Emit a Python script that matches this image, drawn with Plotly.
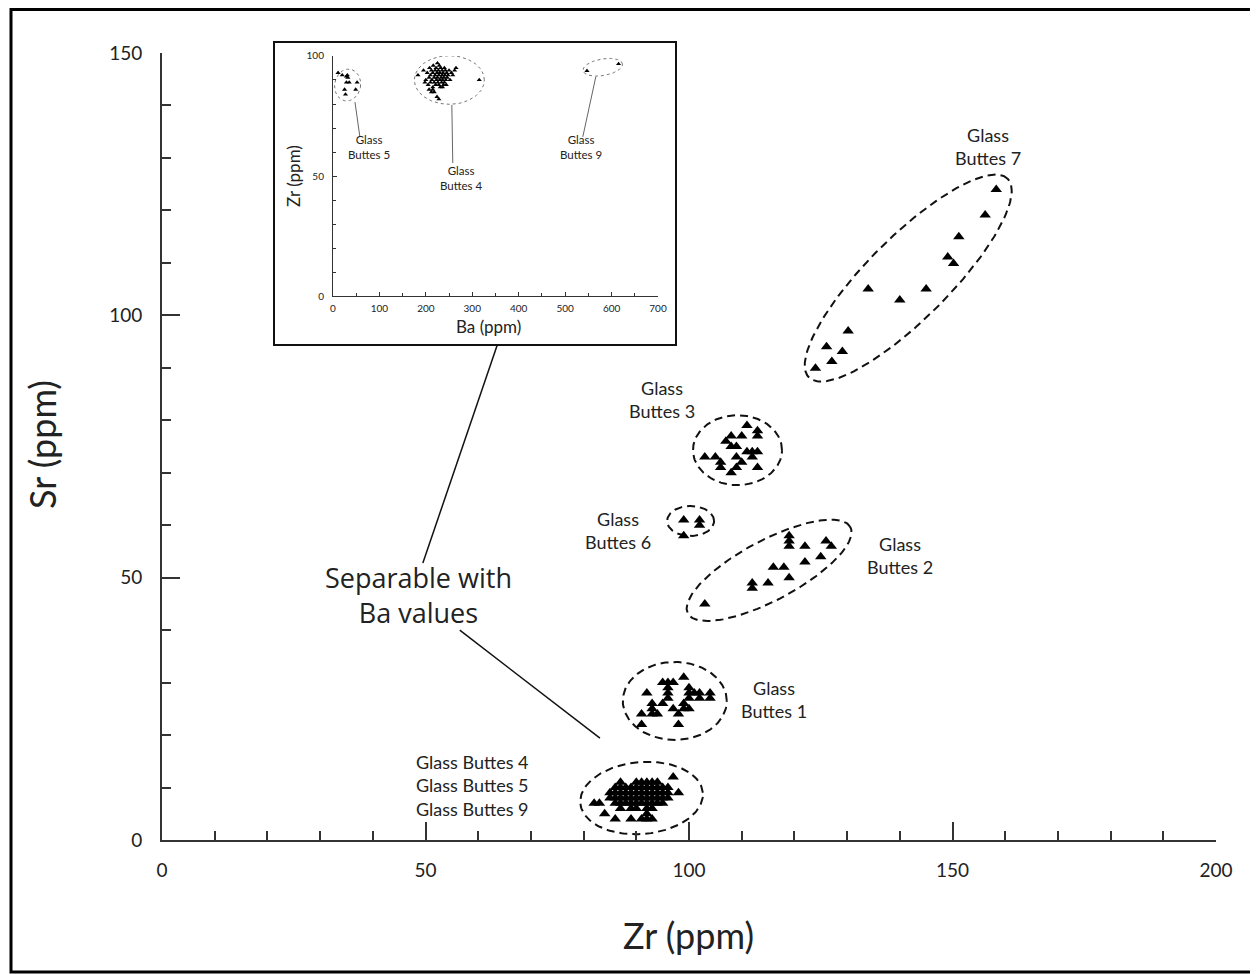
import numpy as np
import plotly.graph_objects as go

FONT = "Lato, 'Open Sans', sans-serif"
FONT2 = "'Open Sans', Lato, sans-serif"
INK = "#222222"

# ---------------- main chart data (Zr ppm, Sr ppm) ----------------
gb7_zr = [158.3, 156.2, 151.2, 149.1, 150.2, 145.0, 140.0, 134.0, 130.2, 126.1, 129.1, 127.1, 124.0]
gb7_sr = [124.0, 119.1, 115.0, 111.1, 109.9, 105.0, 102.9, 105.0, 97.0, 94.0, 93.1, 91.2, 89.9]

gb2_zr = [119, 119, 119, 122, 126, 127, 125, 122, 116, 118, 119, 115, 112, 112, 103]
gb2_sr = [58, 57, 56, 56, 57, 56, 54, 53, 52, 52, 50, 49, 49, 48, 45]

gb6_zr = [99, 102, 102, 99]
gb6_sr = [61, 61, 60, 58]

gb3_zr = [111, 113, 113, 108, 110, 107, 108, 109, 111, 112, 113, 103, 105, 109, 106, 110, 112, 106, 109, 113, 108]
gb3_sr = [79, 78, 77, 77, 77, 76, 75, 75, 74, 74, 74, 73, 73, 73, 72, 72, 73, 71, 71, 71, 70]

gb1_zr = [99, 95, 96, 97, 100, 92, 96, 96, 100, 101, 102, 104, 93, 96, 100, 102, 104, 93, 95, 99,
          91, 93, 94, 97, 98, 99, 100, 91, 98]
gb1_sr = [31, 30, 30, 30, 29, 28, 29, 28, 28, 28, 28, 28, 26, 27, 27, 27, 27, 25, 26, 26,
          24, 24, 24, 25, 24, 25, 25, 22, 22]

gb459_zr = [87, 90, 91, 92, 93, 94,
            86, 87, 88, 89, 90, 91, 92, 93, 94, 95, 96,
            85, 86, 87, 88, 89, 90, 91, 92, 93, 94, 95, 96,
            85, 86, 87, 88, 89, 90, 91, 92, 93, 94, 95, 96,
            86, 87, 88, 89, 90, 91, 92, 93, 94, 95,
            87, 89, 90, 92, 93,
            97, 98, 82, 83, 84, 86, 89, 91, 92, 93, 92]
gb459_sr = [11, 11, 11, 11, 11, 11,
            10, 10, 10, 10, 10, 10, 10, 10, 10, 10, 10,
            9, 9, 9, 9, 9, 9, 9, 9, 9, 9, 9, 9,
            8, 8, 8, 8, 8, 8, 8, 8, 8, 8, 8, 8,
            7, 7, 7, 7, 7, 7, 7, 7, 7, 7,
            6, 6, 6, 6, 6,
            12, 9, 7, 7, 5, 4, 4, 4, 4, 4, 5]

# ---------------- inset data (Ba ppm, Zr ppm) ----------------
in_gb5_ba = [11, 20, 29, 32, 29, 35, 52, 25, 49, 27, 31]
in_gb5_zr = [93, 92, 91.5, 91, 89, 89, 89, 86, 86, 84, 92]

in_gb4_ba = [183, 195, 200, 203, 205, 207, 208, 210, 210, 212, 213, 215, 215, 216, 218, 218, 220, 220, 221, 222,
             223, 224, 225, 225, 226, 227, 228, 228, 229, 230, 230, 231, 232, 233, 234, 235, 235, 236, 237, 238,
             239, 240, 240, 241, 242, 243, 245, 246, 248, 250, 252, 255, 258, 262, 265, 207, 215, 224, 228, 315,
             198, 218, 236, 244, 212]
in_gb4_zr = [92, 94, 90, 93, 88, 91, 95, 92, 89, 94, 90, 93, 87, 96, 91, 89, 94, 92, 88, 95,
             90, 93, 97, 91, 89, 94, 92, 88, 96, 90, 93, 87, 95, 91, 89, 94, 92, 90, 93, 88,
             91, 95, 89, 92, 94, 90, 93, 91, 92, 94, 90, 93, 92, 94, 95, 86, 86, 83, 82, 90,
             89, 85, 87, 88, 85]

in_gb9_ba = [547, 615]
in_gb9_zr = [93.8, 96.7]

# group ellipses: centre (data), semi-axes (px), angle (deg)
main_ellipses = [
    (141.6, 107.1, 140.5, 41, 45),
    (109.2, 74.3, 44.5, 35, 0),
    (100.3, 60.8, 23.5, 15, 0),
    (115.2, 51.4, 92, 30, 28),
    (97.3, 26.5, 52, 39, 0),
    (91.0, 8.0, 61.5, 36, 5),
]
inset_ellipses = [
    (31.6, 87.9, 13, 16, -10),
    (250.6, 90.0, 35, 24.3, 0),
    (581.0, 95.3, 20, 8.3, 10),
]

# pixel scales (px per data unit)
MSX, MSY = 1054 / 200, 787 / 150
ISX, ISY = 325 / 700, 240 / 100


def ellipse(cx, cy, rx, ry, ang, sx, sy):
    t = np.linspace(0, 2 * np.pi, 181)
    a = np.deg2rad(ang)
    dx = rx * np.cos(t) * np.cos(a) - ry * np.sin(t) * np.sin(a)
    dy = rx * np.cos(t) * np.sin(a) + ry * np.sin(t) * np.cos(a)
    return cx + dx / sx, cy + dy / sy


fig = go.Figure()

for cx, cy, rx, ry, ang in main_ellipses:
    ex, ey = ellipse(cx, cy, rx, ry, ang, MSX, MSY)
    fig.add_trace(go.Scatter(x=ex, y=ey, mode="lines", hoverinfo="skip",
                             line=dict(color="#111111", width=2, dash="8px,5px"),
                             cliponaxis=False))

for xs, ys in [(gb7_zr, gb7_sr), (gb2_zr, gb2_sr), (gb6_zr, gb6_sr), (gb3_zr, gb3_sr),
               (gb1_zr, gb1_sr), (gb459_zr, gb459_sr)]:
    fig.add_trace(go.Scatter(x=xs, y=ys, mode="markers", cliponaxis=False,
                             marker=dict(symbol="triangle-up", size=10, color="black",
                                         line=dict(width=0))))

for cx, cy, rx, ry, ang in inset_ellipses:
    ex, ey = ellipse(cx, cy, rx, ry, ang, ISX, ISY)
    fig.add_trace(go.Scatter(x=ex, y=ey, xaxis="x2", yaxis="y2", mode="lines", hoverinfo="skip",
                             line=dict(color="#777777", width=1, dash="dot"), cliponaxis=False))

for xs, ys in [(in_gb5_ba, in_gb5_zr), (in_gb4_ba, in_gb4_zr), (in_gb9_ba, in_gb9_zr)]:
    fig.add_trace(go.Scatter(x=xs, y=ys, xaxis="x2", yaxis="y2", mode="markers", cliponaxis=False,
                             marker=dict(symbol="triangle-up", size=4.5, color="black",
                                         line=dict(width=0))))

axis_common = dict(showline=True, linecolor="#333333", showgrid=False, zeroline=False,
                   ticks="inside", tickcolor="#333333")

# the page body adds an 8px offset: figure is 1250x966 so it ends at the window edge
fig.update_layout(
    width=1250, height=966,
    margin=dict(l=154, r=42, t=45, b=134),
    paper_bgcolor="white", plot_bgcolor="rgba(0,0,0,0)",
    showlegend=False, hovermode=False,
    font=dict(family=FONT, color=INK),
    xaxis=dict(**axis_common, range=[0, 200], linewidth=2, tickwidth=2, ticklen=18,
               tick0=0, dtick=50, tickfont=dict(size=19, color=INK), ticklabelstandoff=12,
               minor=dict(dtick=10, ticks="inside", ticklen=9, tickwidth=1.5, tickcolor="#333333")),
    yaxis=dict(**axis_common, range=[0, 150], linewidth=2, tickwidth=2, ticklen=18,
               tick0=0, dtick=50, tickfont=dict(size=19, color=INK), ticklabelstandoff=14,
               minor=dict(dtick=10, ticks="inside", ticklen=9, tickwidth=1.5, tickcolor="#333333")),
    xaxis2=dict(**axis_common, domain=[0.1622, 0.4706], anchor="y2", range=[0, 700], linewidth=1,
                tickwidth=1, ticklen=4, dtick=100, tickfont=dict(size=10, color=INK), ticklabelstandoff=3,
                minor=dict(dtick=50, ticks="inside", ticklen=3, tickwidth=1, tickcolor="#333333")),
    yaxis2=dict(**axis_common, domain=[0.6912, 0.9962], anchor="x2", range=[0, 100], linewidth=1,
                tickwidth=1, ticklen=4, dtick=50, tickfont=dict(size=10, color=INK), ticklabelstandoff=6,
                minor=dict(dtick=10, ticks="inside", ticklen=3, tickwidth=1, tickcolor="#333333")),
)


def px2paper_x(px):
    return (px - 162) / 1054


def px2paper_y(py):
    return (840 - py) / 787


shapes = [
    dict(type="rect", xref="paper", yref="paper", x0=px2paper_x(11), x1=px2paper_x(1262),
         y0=px2paper_y(972), y1=px2paper_y(9.5), line=dict(color="black", width=3), layer="above"),
    dict(type="rect", xref="paper", yref="paper", x0=px2paper_x(274), x1=px2paper_x(676),
         y0=px2paper_y(345), y1=px2paper_y(42), line=dict(color="#111111", width=2),
         fillcolor="white", layer="below"),
    dict(type="line", xref="x", yref="y", x0=63.6, y0=94.3, x1=49.5, y1=52.8,
         line=dict(color="#111111", width=1.5)),
    dict(type="line", xref="x", yref="y", x0=56.5, y0=40.0, x1=83.1, y1=19.4,
         line=dict(color="#111111", width=1.5)),
    dict(type="line", xref="x2", yref="y2", x0=47.4, y0=80.8, x1=58, y1=66.3,
         line=dict(color="#666666", width=1)),
    dict(type="line", xref="x2", yref="y2", x0=256, y0=79.6, x1=258, y1=55.4,
         line=dict(color="#666666", width=1)),
    dict(type="line", xref="x2", yref="y2", x0=566, y0=91.3, x1=538, y1=66.3,
         line=dict(color="#666666", width=1)),
]
fig.update_layout(shapes=shapes)

main_labels = [
    ("Glass<br>Buttes 7", 156.7, 132.1),
    ("Glass<br>Buttes 3", 94.9, 84.0),
    ("Glass<br>Buttes 6", 86.5, 58.9),
    ("Glass<br>Buttes 2", 140.0, 54.3),
    ("Glass<br>Buttes 1", 116.1, 26.7),
    ("Glass Buttes 4<br>Glass Buttes 5<br>Glass Buttes 9", 59.0, 10.4),
]
annotations = []
for text, x, y in main_labels:
    annotations.append(dict(text=text, x=x, y=y, xref="x", yref="y", showarrow=False,
                            xanchor="center", yanchor="middle",
                            font=dict(size=18, color=INK, family=FONT), align="center"))
annotations.append(dict(text="Separable with<br>Ba values", x=48.6, y=46.7, xref="x", yref="y",
                        xanchor="center", yanchor="middle",
                        showarrow=False, font=dict(size=27, color=INK, family=FONT2), align="center"))

inset_labels = [
    ("Glass<br>Buttes 5", 77.5, 62),
    ("Glass<br>Buttes 4", 276, 49),
    ("Glass<br>Buttes 9", 534, 62),
]
for text, x, y in inset_labels:
    annotations.append(dict(text=text, x=x, y=y, xref="x2", yref="y2", showarrow=False,
                            xanchor="center", yanchor="middle",
                            font=dict(size=11.5, color=INK, family=FONT), align="center"))

annotations += [
    dict(text="Zr (ppm)", xref="paper", yref="paper", x=px2paper_x(688), y=px2paper_y(935),
         xanchor="center", yanchor="middle",
         showarrow=False, font=dict(size=36, color=INK, family=FONT)),
    dict(text="Sr (ppm)", xref="paper", yref="paper", x=px2paper_x(42), y=px2paper_y(445),
         xanchor="center", yanchor="middle",
         showarrow=False, textangle=-90, font=dict(size=36, color=INK, family=FONT)),
    dict(text="Ba (ppm)", xref="paper", yref="paper", x=px2paper_x(488), y=px2paper_y(326),
         xanchor="center", yanchor="middle",
         showarrow=False, font=dict(size=17, color=INK, family=FONT)),
    dict(text="Zr (ppm)", xref="paper", yref="paper", x=px2paper_x(293), y=px2paper_y(176),
         xanchor="center", yanchor="middle",
         showarrow=False, textangle=-90, font=dict(size=17, color=INK, family=FONT)),
]
fig.update_layout(annotations=annotations)

fig.write_html("out.html")
